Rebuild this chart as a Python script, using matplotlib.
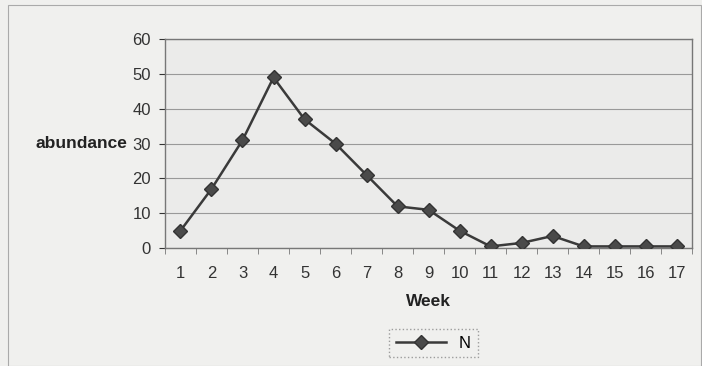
import matplotlib

matplotlib.use("Agg")
import matplotlib.pyplot as plt
from matplotlib.patches import Rectangle

weeks = list(range(1, 18))
abundance = [5, 17, 31, 49, 37, 30, 21, 12, 11, 5, 0.5, 1.5, 3.5, 0.5, 0.5, 0.5, 0.5]
y_ticks = [0, 10, 20, 30, 40, 50, 60]

plt.rcParams["font.family"] = ["Liberation Sans", "DejaVu Sans"]

fig = plt.figure(figsize=(7.02, 3.66), dpi=100, facecolor="#f0f0ee")
ax = fig.add_axes([0.235, 0.322, 0.751, 0.571])
ax.set_facecolor("#ebebea")

ax.plot(weeks, abundance, color="#3a3a3a", lw=1.8, marker="D", ms=7.5,
        mfc="#4a4a4a", mec="#333333", label="N", zorder=3)

ax.set_xlim(0.5, 17.5)
ax.set_ylim(0, 60)
ax.set_yticks(y_ticks)
ax.set_xticks(weeks)
ax.set_xticks([w + 0.5 for w in [0] + weeks], minor=True)
ax.tick_params(axis="x", which="major", length=0, pad=13)
ax.tick_params(axis="x", which="minor", length=4, color="#777777")
ax.tick_params(axis="y", length=4, color="#777777", pad=6)
ax.tick_params(labelsize=12, colors="#333333")
ax.grid(axis="y", color="#999999", lw=0.8)
ax.set_axisbelow(True)
for side in ax.spines.values():
    side.set_color("#777777")
    side.set_linewidth(1.0)

ax.set_xlabel("Week", fontsize=12.5, fontweight="bold", color="#222222", labelpad=9)
ax.set_ylabel("abundance", fontsize=12.5, fontweight="bold", color="#222222",
              rotation=0, ha="right", va="center", labelpad=4)

leg = ax.legend(loc="center", bbox_to_anchor=(0.509, -0.455), frameon=True,
                fancybox=False, fontsize=12, handlelength=3, borderpad=0.4)
leg.get_frame().set_edgecolor("#888888")
leg.get_frame().set_linestyle(":")
leg.get_frame().set_facecolor("#f0f0ee")

fig.patches.append(Rectangle((0.012, 0.0), 0.986, 0.985, transform=fig.transFigure,
                             fill=False, ec="#aaaaaa", lw=0.8))

fig.savefig("out.png", dpi=100, facecolor=fig.get_facecolor())
